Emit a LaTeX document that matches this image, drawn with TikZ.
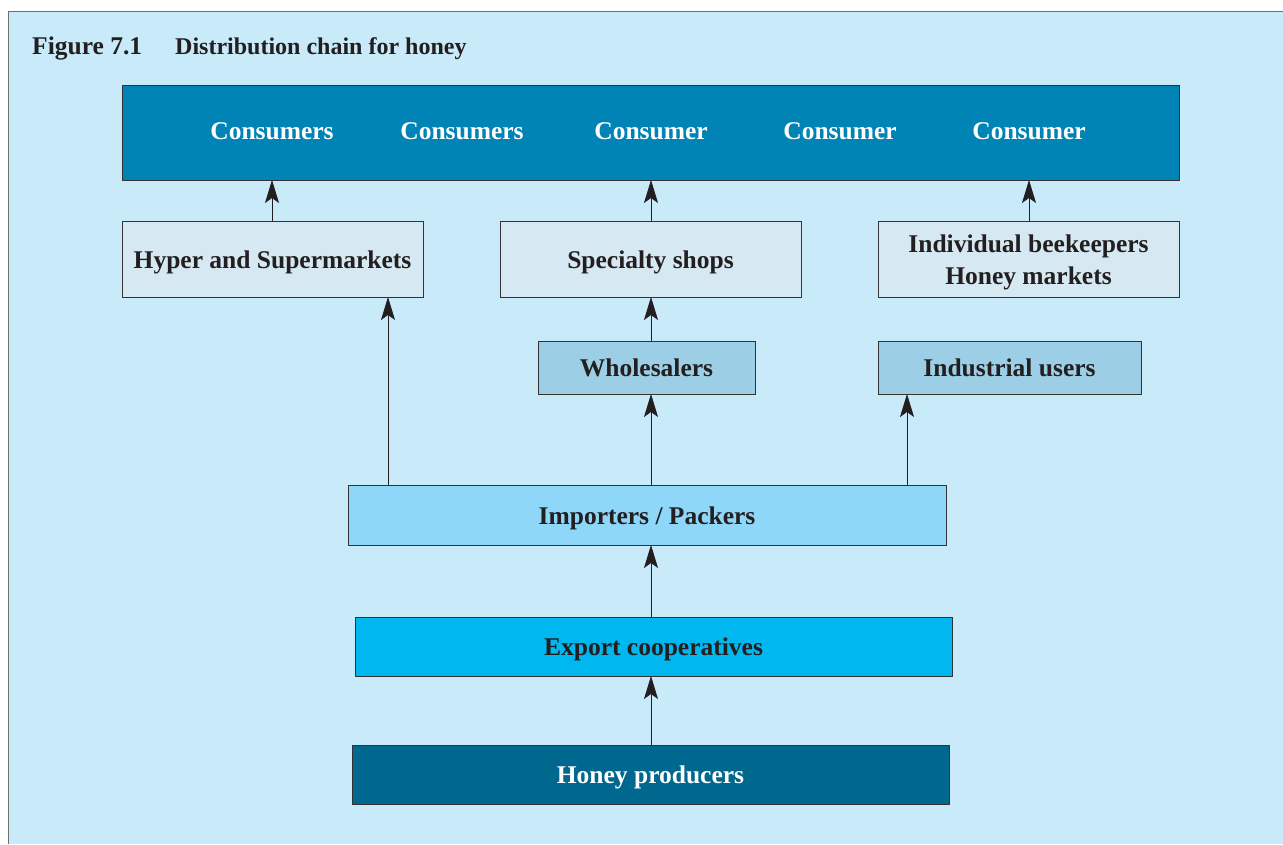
\documentclass[tikz,border=0pt]{standalone}
\usepackage{fontspec}
\setmainfont{Liberation Serif}
\usetikzlibrary{arrows.meta}
\definecolor{bgc}{HTML}{C8EAF9}
\definecolor{framec}{HTML}{707070}
\definecolor{consc}{HTML}{0083B5}
\definecolor{retailc}{HTML}{D6E8F2}
\definecolor{wholec}{HTML}{9CCFE5}
\definecolor{impc}{HTML}{8ED7F8}
\definecolor{expc}{HTML}{00B7EF}
\definecolor{prodc}{HTML}{00688E}
\definecolor{edgec}{HTML}{333333}
\definecolor{txtc}{HTML}{231F20}
\tikzset{
  box/.style={draw=edgec, line width=0.8pt, rectangle, inner sep=0pt, outer sep=0pt,
    text=txtc, font=\fontsize{25.5}{32}\selectfont\bfseries, align=center,
    text height=18pt, text depth=0pt},
  lbl/.style={inner sep=0pt, font=\fontsize{25.5}{30}\selectfont\bfseries, text=white,
    text height=18pt, text depth=0pt},
  ttl/.style={anchor=base west, inner sep=0pt, text=txtc, font=\fontsize{24.5}{28}\selectfont\bfseries},
  flow/.style={draw=txtc, line width=0.8pt, -{Stealth[length=23pt,width=14pt,inset=5pt]}}
}
\begin{document}
\begin{tikzpicture}[x=1pt,y=-1pt]
\useasboundingbox (0,0) rectangle (1283,844);
\fill[white] (0,0) rectangle (1283,844);
\fill[bgc] (8,11) rectangle (1283,844);
\draw[framec, line width=1pt] (8,844) -- (8,11) -- (1283,11);
\node[ttl, font=\fontsize{25.5}{28}\selectfont\bfseries] (fig) at (32,54) {Figure 7.1};
\node[ttl, font=\fontsize{24}{28}\selectfont\bfseries] (title) at (175,54) {Distribution chain for honey};

\node[box, fill=consc, minimum width=1057pt, minimum height=95pt] (cons) at (650.5,132.5) {};
\node[lbl] (c1) at (272,130) {Consumers};
\node[lbl] (c2) at (462,130) {Consumers};
\node[lbl] (c3) at (651,130) {Consumer};
\node[lbl] (c4) at (840,130) {Consumer};
\node[lbl] (c5) at (1029,130) {Consumer};

\node[box, fill=retailc, minimum width=301pt, minimum height=76pt] (hyper) at (272.5,259) {Hyper and Supermarkets};
\node[box, fill=retailc, minimum width=301pt, minimum height=76pt] (spec) at (650.5,259) {Specialty shops};
\node[box, fill=retailc, minimum width=301pt, minimum height=76pt] (indiv) at (1028.5,259) {};
\node[inner sep=0pt, align=center, text=txtc, font=\fontsize{25.5}{32}\selectfont\bfseries] (indivt) at (1028.5,262) {Individual beekeepers\\Honey markets};

\node[box, fill=wholec, minimum width=217pt, minimum height=53pt] (whole) at (646.5,367.5) {Wholesalers};
\node[box, fill=wholec, minimum width=263pt, minimum height=53pt] (indus) at (1009.5,367.5) {Industrial users};

\node[box, fill=impc, minimum width=598pt, minimum height=60pt] (imp) at (647,515) {Importers / Packers};
\node[box, fill=expc, minimum width=597pt, minimum height=59pt] (exp) at (653.5,646.5) {Export cooperatives};
\node[box, fill=prodc, minimum width=597pt, minimum height=59pt, text=white] (prod) at (650.5,774.5) {Honey producers};

\draw[flow] (hyper.north -| c1) -- (cons.south -| c1);
\draw[flow] (spec.north -| c3) -- (cons.south -| c3);
\draw[flow] (indiv.north -| c5) -- (cons.south -| c5);
\coordinate (xa) at (388,0);
\coordinate (xb) at (651,0);
\coordinate (xc) at (907,0);
\draw[flow] (imp.north -| xa) -- (hyper.south -| xa);
\draw[flow] (imp.north -| xb) -- (whole.south -| xb);
\draw[flow] (whole.north -| xb) -- (spec.south -| xb);
\draw[flow] (imp.north -| xc) -- (indus.south -| xc);
\draw[flow] (exp.north -| xb) -- (imp.south -| xb);
\draw[flow] (prod.north -| xb) -- (exp.south -| xb);
\end{tikzpicture}
\end{document}
